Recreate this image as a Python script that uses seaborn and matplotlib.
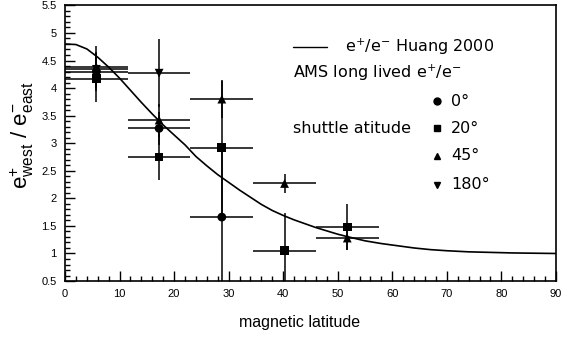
import numpy as np
import pandas as pd
import matplotlib
matplotlib.use("Agg")
import matplotlib.pyplot as plt
from matplotlib.ticker import MultipleLocator, FormatStrFormatter
from matplotlib.lines import Line2D
import seaborn as sns

# ---- data ----
bin_centers = [5.75, 17.25, 28.75, 40.25, 51.75]
bin_halfwidth = 5.75

# shuttle attitude series (None = no point in that bin)
att_0 = [4.30, 3.27, 1.66, None, None]
err_0 = [0.35, 0.30, 1.30, None, None]
att_20 = [4.17, 2.75, 2.92, 1.05, 1.48]
err_20 = [0.42, 0.42, 1.20, 0.68, 0.42]
att_45 = [4.38, 3.42, 3.80, 2.27, 1.28]
err_45 = [0.38, 0.30, 0.35, 0.18, 0.22]
att_180 = [4.34, 4.27, None, None, None]
err_180 = [0.30, 0.62, None, None, None]

# Huang 2000 curve
curve_lat = [0, 2, 4, 6, 8, 10, 12, 14, 16, 18, 20, 22, 24, 26, 28, 30, 32,
             34, 36, 38, 40, 42, 44, 46, 48, 50, 52, 55, 58, 61, 64, 67, 70,
             74, 78, 82, 86, 90]
curve_val = [4.80, 4.79, 4.71, 4.56, 4.38, 4.18, 3.96, 3.74, 3.53, 3.33, 3.15,
             2.97, 2.76, 2.59, 2.43, 2.29, 2.15, 2.02, 1.89, 1.78, 1.69, 1.61,
             1.54, 1.47, 1.41, 1.35, 1.30, 1.23, 1.18, 1.14, 1.10, 1.07, 1.05,
             1.03, 1.02, 1.01, 1.005, 1.00]

series_labels = ["0°", "20°", "45°", "180°"]
series_markers = ["o", "s", "^", "v"]

# ---- styling ----
sns.set_style("ticks")
plt.rcParams["font.family"] = ["Liberation Sans", "DejaVu Sans"]
plt.rcParams["mathtext.default"] = "regular"
for k in ["text.color", "axes.labelcolor", "xtick.color", "ytick.color",
          "axes.edgecolor"]:
    plt.rcParams[k] = "black"

fig = plt.figure(figsize=(5.61, 3.37), dpi=100)
ax = fig.add_axes([0.1159, 0.166, 0.875, 0.818])

curve_df = pd.DataFrame({"lat": curve_lat, "ratio": curve_val})
sns.lineplot(data=curve_df, x="lat", y="ratio", ax=ax, color="black",
             linewidth=1.2, estimator=None, sort=True)

rows = []
for lab, mk, vals, errs in zip(series_labels, series_markers,
                               [att_0, att_20, att_45, att_180],
                               [err_0, err_20, err_45, err_180]):
    for xc, v, e in zip(bin_centers, vals, errs):
        if v is None:
            continue
        rows.append({"lat": xc, "ratio": v, "err": e, "att": lab})
pts = pd.DataFrame(rows)

ax.errorbar(pts["lat"], pts["ratio"], yerr=pts["err"], xerr=bin_halfwidth,
            fmt="none", ecolor="black", elinewidth=1.1, capsize=0, zorder=2)
sns.scatterplot(data=pts, x="lat", y="ratio", style="att",
                markers=dict(zip(series_labels, series_markers)),
                style_order=series_labels, color="black", s=40,
                edgecolor="black", linewidth=0, ax=ax, legend=False, zorder=3)

ax.set_xlim(0, 90)
ax.set_ylim(0.5, 5.5)
ax.xaxis.set_major_locator(MultipleLocator(10))
ax.xaxis.set_minor_locator(MultipleLocator(2))
ax.yaxis.set_major_locator(MultipleLocator(0.5))
ax.yaxis.set_minor_locator(MultipleLocator(0.1))
ax.yaxis.set_major_formatter(FormatStrFormatter("%g"))
ax.tick_params(which="major", direction="in", length=7, width=1,
               labelsize=8, pad=6, colors="black")
ax.tick_params(which="minor", direction="in", length=3.5, width=1,
               colors="black")
ax.tick_params(axis="x", which="both", top=False)
ax.tick_params(axis="y", which="both", right=False)
for sp in ax.spines.values():
    sp.set_visible(True)
    sp.set_linewidth(1.2)
    sp.set_color("black")
ax.set_xlabel("")
ax.set_ylabel("")

fig.text(300 / 561, 1 - 322 / 337, "magnetic latitude", ha="center",
         va="center", fontsize=11.5, color="black")
fig.text(22 / 561, 1 - 135 / 337, "e$^{+}_{west}$ / e$^{-}_{east}$",
         rotation=90, ha="center", va="center", fontsize=16, color="black")

# ---- custom legend ----
lfont = ["DejaVu Sans"]
lsize = 11.5
ax.add_line(Line2D([0.464, 0.534], [0.849, 0.849], transform=ax.transAxes,
                   color="black", linewidth=1.0))
ax.text(0.570, 0.849, "e$^{+}$/e$^{-}$ Huang 2000", transform=ax.transAxes,
        ha="left", va="center", fontsize=lsize, family=lfont, color="black")
ax.text(0.464, 0.755, "AMS long lived e$^{+}$/e$^{-}$", transform=ax.transAxes,
        ha="left", va="center", fontsize=lsize, family=lfont, color="black")
ax.text(0.464, 0.555, "shuttle atitude", transform=ax.transAxes,
        ha="left", va="center", fontsize=lsize, family=lfont, color="black")
for lab, mk, yy in zip(series_labels, series_markers,
                       [0.653, 0.555, 0.454, 0.349]):
    ax.plot([0.758], [yy], marker=mk, color="black", markersize=5,
            linestyle="none", transform=ax.transAxes)
    ax.text(0.786, yy, lab, transform=ax.transAxes, ha="left", va="center",
            fontsize=lsize, family=lfont, color="black")

fig.savefig("out.png", dpi=100)
